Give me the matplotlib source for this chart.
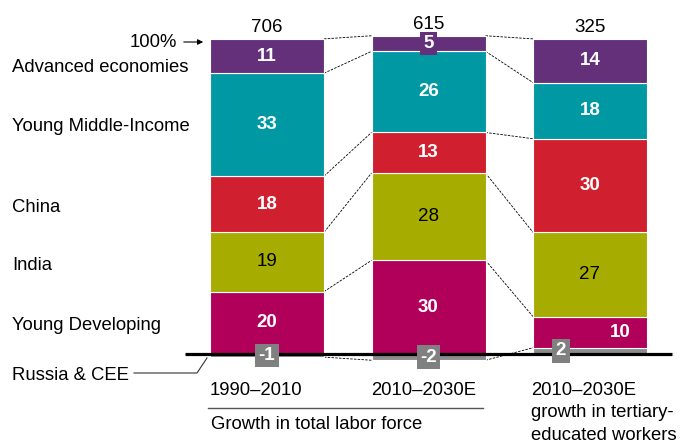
import matplotlib
matplotlib.use("Agg")
import matplotlib.pyplot as plt
import numpy as np

plt.rcParams['font.family'] = ['Liberation Sans', 'DejaVu Sans']

# data (share of growth, %), bottom to top
regions = ["Russia & CEE", "Young Developing", "India", "China",
           "Young Middle-Income", "Advanced economies"]
russia = [-1, -2, 2]
young_dev = [20, 30, 10]
india = [19, 28, 27]
china = [18, 13, 30]
young_mid = [33, 26, 18]
advanced = [11, 5, 14]
totals = [706, 615, 325]
periods = ["1990\u20132010", "2010\u20132030E", "2010\u20132030E"]

colors = ["#8c8c8c", "#b0005a", "#a6ad00", "#d0202f", "#0099a3", "#65307a"]
text_colors = ["white", "white", "black", "white", "white", "white"]

series = [russia, young_dev, india, china, young_mid, advanced]

# pixel -> data helper (bars drawn at x = 0, 1, 2)
X0, XS, Y0, YS = 267, 161.5, 354, 3.12


def px(x, y):
    return (x - X0) / XS, (Y0 - y) / YS


fig = plt.figure(figsize=(6.81, 4.44), dpi=100)
ax = fig.add_axes([0, 0, 1, 1])
ax.set_xlim(px(0, 0)[0], px(681, 0)[0])
ax.set_ylim(px(0, 444)[1], px(0, 0)[1])
ax.axis('off')

xs = np.arange(3)
width = 114 / XS
fs = 13.3

# stack: russia from 0, the others stacked above max(russia, 0)
bottoms = []
base = np.maximum(np.array(russia), 0)
for i, vals in enumerate(series):
    vals = np.array(vals)
    if i == 0:
        b = np.zeros(3)
    else:
        b = base.copy()
        base = base + vals
    bottoms.append(b)
    ax.bar(xs, vals, width, bottom=b, color=colors[i], edgecolor="white",
           linewidth=0.8, zorder=2)

# connector lines between bars
edges = []
for i, vals in enumerate(series):
    edges.append(bottoms[i] + np.array(vals))
for e in edges:
    for k in range(2):
        ax.plot([xs[k] + width / 2, xs[k + 1] - width / 2], [e[k], e[k + 1]],
                color="black", lw=0.6, ls=(0, (3, 1.5)), zorder=1)

# segment labels
for i, vals in enumerate(series):
    for k in range(3):
        v = vals[k]
        cx = xs[k]
        cy = bottoms[i][k] + v / 2
        if k == 2 and i == 1:
            cx += 30 / XS
        if k == 2 and i == 0:
            cx -= 29 / XS
        weight = "normal" if i == 2 else "bold"
        box = None
        if i == 0:
            box = dict(boxstyle="square,pad=0.18", fc="#808080", ec="none")
        elif i == 5 and v < 8:
            box = dict(boxstyle="square,pad=0.18", fc=colors[5], ec="none")
        ax.text(cx, cy, str(v), ha="center", va="center", fontsize=13.5,
                color=text_colors[i], fontweight=weight, bbox=box, zorder=4)

# totals on top
tops = edges[5]
for k in range(3):
    ax.text(xs[k], tops[k] + 7 / YS, str(totals[k]), ha="center",
            va="baseline", fontsize=13.5, color="black")

# baseline
ax.plot([px(185, 0)[0], px(672, 0)[0]], [0, 0], color="black", lw=2.3,
        zorder=3, solid_capstyle="butt")

# left labels
label_y = [375, 325, 266, 208, 127, 68]
for name, y in zip(regions, label_y):
    ax.text(*px(12, y), name, ha="left", va="center", fontsize=fs)
ax.text(*px(177, 43), "100%", ha="right", va="center", fontsize=fs)
ax.annotate("", xy=px(206, 42), xytext=px(181, 42),
            arrowprops=dict(arrowstyle="-|>", color="black", lw=0.8,
                            mutation_scale=8))
lx, ly = zip(px(134, 373), px(197, 373), px(207, 358))
ax.plot(lx, ly, color="#333333", lw=0.8)

# bottom labels
ax.text(*px(256, 390), periods[0], ha="center", va="center", fontsize=fs)
ax.text(*px(424, 390), periods[1], ha="center", va="center", fontsize=fs)
bx, by = zip(px(208, 408), px(483, 408))
ax.plot(bx, by, color="#555555", lw=1.0)
ax.text(*px(211, 424), "Growth in total labor force", ha="left",
        va="center", fontsize=fs)
ax.text(*px(531, 382), periods[2] + "\ngrowth in tertiary-\neducated workers",
        ha="left", va="top", fontsize=fs, linespacing=1.42)

fig.savefig("out.png", dpi=100)
